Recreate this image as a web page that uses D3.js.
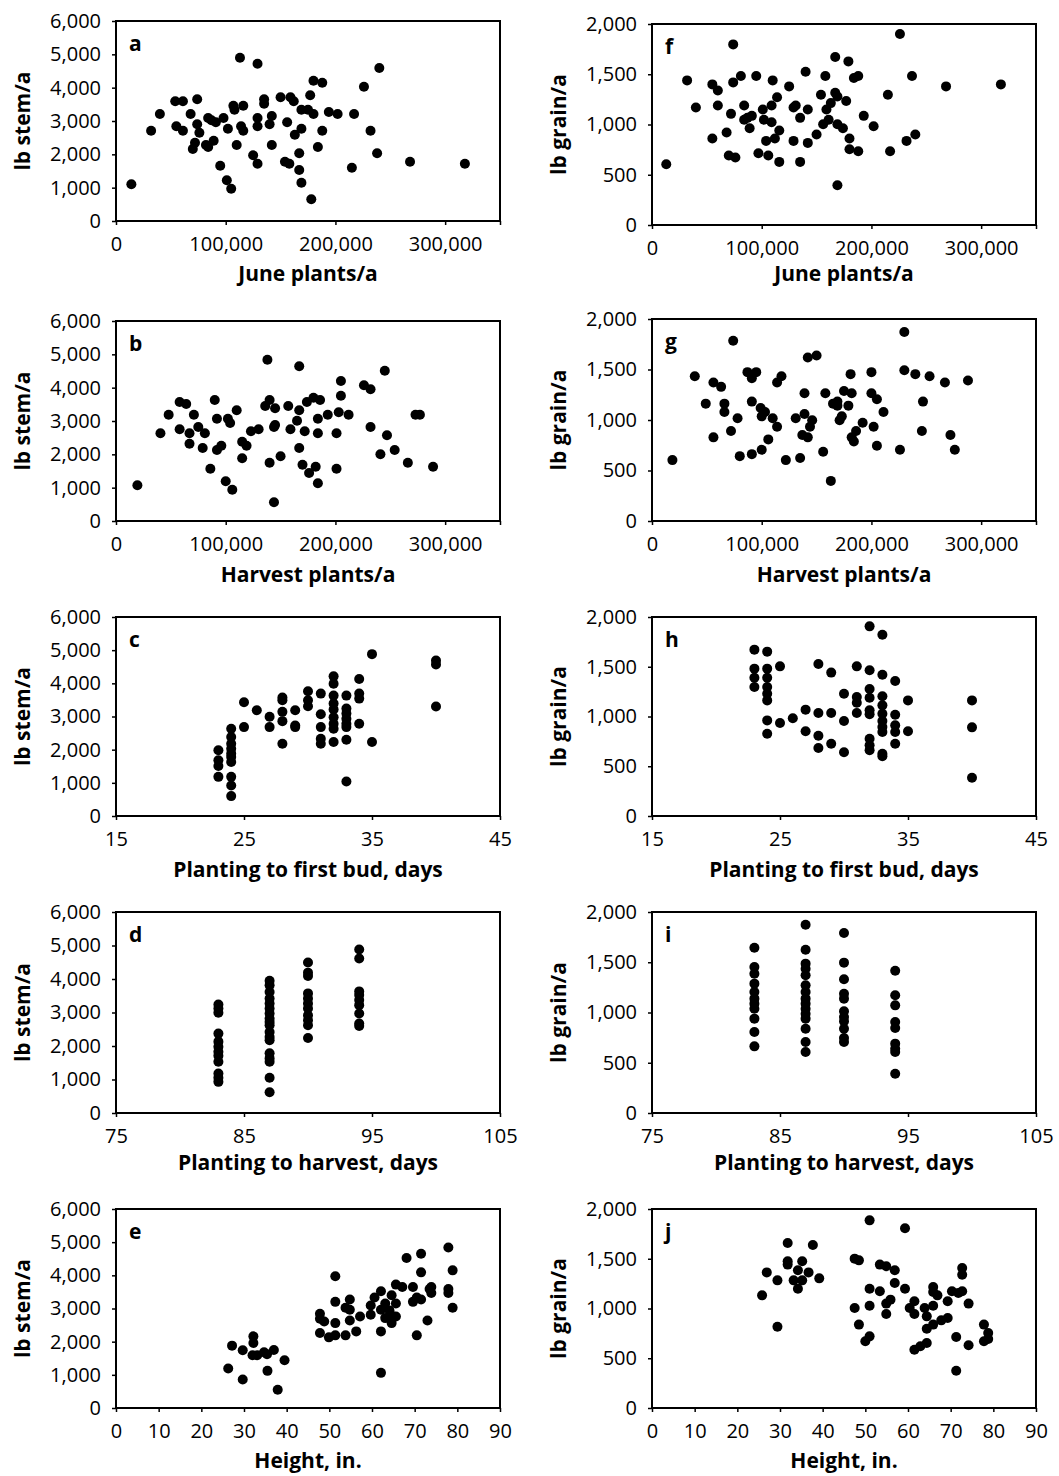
<!DOCTYPE html>
<html>
<head>
<meta charset="utf-8">
<script src="https://cdn.jsdelivr.net/npm/d3@7"></script>
<style>
  body { margin: 0; background: #fff; }
  text { font-family: "Open Sans", "DejaVu Sans", sans-serif; fill: #000; }
  .tick text { font-size: 20px; }
  .tick line { stroke: #000; stroke-width: 1.5; }
  .title { font-size: 21px; font-weight: bold; }
  .letter { font-size: 21px; font-weight: bold; }
</style>
</head>
<body>
<svg id="chart" width="1059" height="1476"></svg>
<script>
// panel a: June plants/a vs lb stem/a
var juneStem = [[14000,1100],[32000,2710],[40000,3210],[54000,3590],[61000,3590],[55000,2840],[61000,2710],[74000,3650],[68000,3210],[74000,2900],[76000,2650],[72000,2350],[70000,2160],[82000,2280],[84000,2220],[84000,3090],[87000,3020],[91000,2960],[89000,2410],[98000,3090],[95000,1660],[102000,2770],[101000,1220],[105000,970],[107000,3460],[108000,3340],[110000,2280],[113000,4900],[116000,3460],[114000,2840],[116000,2710],[125000,1970],[129000,1720],[129000,3090],[129000,2840],[129000,4720],[135000,3650],[135000,3520],[142000,3150],[140000,2900],[142000,2280],[150000,3710],[156000,2960],[154000,1780],[158000,1720],[159000,3710],[162000,3590],[163000,2590],[169000,3340],[169000,2770],[167000,2030],[167000,1530],[169000,1150],[175000,3340],[177000,3770],[180000,4210],[180000,3210],[178000,650],[188000,4150],[188000,2710],[184000,2220],[194000,3270],[202000,3210],[217000,3210],[215000,1600],[226000,4030],[232000,2710],[238000,2030],[240000,4590],[268000,1780],[318000,1720]];

// panel f: June plants/a vs lb grain/a
var juneGrain = [[13000,605],[32000,1439],[40000,1169],[55000,1399],[60000,1339],[60000,1189],[55000,860],[68000,920],[72000,1106],[74000,1419],[74000,1797],[70000,691],[76000,671],[81000,1482],[84000,1189],[84000,1047],[87000,1066],[91000,1086],[89000,963],[95000,1482],[97000,714],[101000,1150],[102000,1047],[104000,837],[106000,691],[109000,1189],[109000,1023],[110000,1439],[112000,860],[114000,1272],[116000,940],[116000,628],[125000,1379],[129000,1169],[131000,1189],[129000,837],[135000,1066],[135000,628],[140000,1525],[142000,1150],[142000,817],[150000,900],[154000,1296],[156000,1003],[158000,1482],[159000,1150],[161000,1047],[163000,1213],[167000,1671],[167000,1316],[169000,1003],[169000,1279],[169000,395],[174000,963],[177000,1233],[179000,1628],[180000,860],[180000,754],[184000,1462],[188000,1482],[188000,734],[193000,1086],[202000,983],[215000,1296],[217000,734],[226000,1900],[232000,837],[237000,1482],[240000,900],[268000,1379],[318000,1399]];

// panel b: Harvest plants/a vs lb stem/a
var harvestStem = [[19500,1070],[40500,2630],[48000,3190],[58000,3570],[64000,3510],[58000,2750],[71000,3190],[67000,2630],[67000,2320],[75000,2820],[81000,2630],[79000,2190],[90000,3630],[92000,3070],[92000,2130],[96000,2260],[86000,1570],[100000,1190],[106000,940],[102000,3070],[104000,2940],[110000,3320],[115000,2380],[119000,2260],[115000,1880],[123000,2690],[130000,2750],[138000,4840],[136000,3450],[140000,3630],[144000,2820],[145000,2880],[145000,3380],[140000,1750],[144000,560],[150000,1940],[157000,3450],[159000,2750],[165000,3010],[167000,3320],[167000,4640],[167000,2190],[170000,1690],[172000,2690],[174000,3570],[176000,1440],[180000,3700],[182000,1630],[184000,3070],[184000,2630],[184000,1130],[186000,3630],[193000,3190],[201000,2630],[201000,1570],[203000,3260],[205000,3760],[205000,4200],[212000,3190],[226000,4070],[232000,3950],[232000,2820],[241000,2000],[245000,4510],[247000,2570],[254000,2130],[266000,1750],[273000,3190],[277000,3190],[289000,1630]];

// panel g: Harvest plants/a vs lb grain/a
var harvestGrain = [[18600,603],[39000,1434],[49000,1162],[56000,1371],[63000,1328],[66000,1162],[66000,1079],[56000,828],[78000,1017],[72000,891],[74000,1785],[80000,642],[87000,1474],[91000,1414],[95000,1474],[91000,1182],[99000,1119],[103000,1079],[100000,1036],[91000,662],[100000,705],[106000,808],[110000,1017],[114000,934],[114000,1371],[118000,1434],[122000,603],[131000,1017],[135000,623],[139000,1265],[139000,1060],[137000,851],[142000,1619],[142000,828],[146000,997],[144000,934],[150000,1639],[156000,685],[158000,1265],[163000,397],[165000,1162],[169000,1182],[169000,1142],[171000,997],[173000,1036],[175000,1288],[179000,1142],[181000,1454],[182000,1265],[182000,828],[184000,788],[186000,891],[192000,973],[200000,1474],[200000,1265],[202000,934],[205000,1205],[205000,745],[211000,1079],[226000,705],[230000,1493],[230000,1871],[240000,1454],[246000,891],[247000,1182],[253000,1434],[267000,1371],[272000,851],[276000,705],[288000,1391]];

// panel c: planting to first bud, days vs lb stem/a
var budStem = [[23,1980],[23,1680],[23,1510],[23,1180],[24,2630],[24,2380],[24,2180],[24,2030],[24,1880],[24,1780],[24,1630],[24,1180],[24,920],[24,600],[25,3430],[25,2680],[26,3190],[27,2990],[27,2680],[28,3570],[28,3490],[28,3140],[28,2860],[28,2180],[29,3190],[29,2730],[29,2680],[30,3760],[30,3490],[30,3310],[31,3690],[31,3070],[31,2680],[31,2330],[31,2180],[32,4210],[32,3990],[32,3630],[32,3390],[32,3210],[32,2980],[32,2780],[32,2630],[32,2230],[33,3630],[33,3240],[33,3090],[33,2930],[33,2780],[33,2680],[33,2300],[33,1040],[34,4130],[34,3690],[34,3540],[34,2780],[35,4880],[35,2230],[40,4690],[40,4570],[40,3300]];

// panel h: planting to first bud, days vs lb grain/a
var budGrain = [[23,1672],[23,1481],[23,1390],[23,1297],[24,1652],[24,1481],[24,1390],[24,1297],[24,1229],[24,1162],[24,961],[24,827],[25,1504],[25,935],[26,982],[27,1069],[27,851],[28,1528],[28,1035],[28,807],[28,683],[29,1441],[29,1035],[29,727],[30,1229],[30,955],[30,640],[31,1504],[31,1196],[31,1139],[31,1035],[32,1906],[32,1464],[32,1276],[32,1189],[32,1062],[32,1022],[32,777],[32,710],[32,660],[33,1822],[33,1420],[33,1203],[33,1112],[33,1028],[33,955],[33,894],[33,844],[33,626],[33,600],[34,1357],[34,1018],[34,911],[34,844],[34,727],[35,1162],[35,851],[40,1162],[40,891],[40,385]];

// panel d: planting to harvest, days vs lb stem/a
var harvestDaysStem = [[83,3240],[83,3120],[83,2990],[83,2370],[83,2130],[83,1980],[83,1830],[83,1710],[83,1530],[83,1180],[83,1050],[83,930],[87,3950],[87,3810],[87,3610],[87,3420],[87,3270],[87,3120],[87,2970],[87,2820],[87,2720],[87,2620],[87,2420],[87,2270],[87,2170],[87,1780],[87,1630],[87,1530],[87,1050],[87,620],[90,4490],[90,4190],[90,4090],[90,3570],[90,3420],[90,3270],[90,3120],[90,2920],[90,2770],[90,2620],[90,2240],[94,4880],[94,4610],[94,3630],[94,3520],[94,3370],[94,3220],[94,2970],[94,2670],[94,2600]];

// panel i: planting to harvest, days vs lb grain/a
var harvestDaysGrain = [[83,1645],[83,1453],[83,1386],[83,1287],[83,1204],[83,1138],[83,1088],[83,1038],[83,939],[83,806],[83,663],[87,1874],[87,1625],[87,1486],[87,1436],[87,1370],[87,1270],[87,1204],[87,1138],[87,1088],[87,1038],[87,988],[87,939],[87,839],[87,706],[87,607],[90,1791],[90,1496],[90,1330],[90,1187],[90,1138],[90,1012],[90,955],[90,912],[90,839],[90,746],[90,706],[94,1416],[94,1171],[94,1071],[94,905],[94,846],[94,690],[94,640],[94,607],[94,391]];

// panel e: height, in. vs lb stem/a
var heightStem = [[26.3,1190],[27.2,1880],[29.7,1740],[29.7,860],[32.2,2160],[32.2,1960],[32.0,1590],[33.1,1590],[34.7,1680],[35.4,1620],[37.0,1750],[35.5,1120],[37.9,550],[39.5,1440],[47.8,2840],[47.8,2690],[48.8,2610],[47.8,2260],[49.9,2130],[51.4,3970],[51.4,3200],[51.4,2560],[51.4,2190],[53.8,3020],[53.8,2190],[54.8,3270],[54.8,2960],[54.8,2640],[56.3,2310],[57.2,2760],[59.7,3090],[59.7,2810],[60.6,3330],[62.1,3520],[62.1,2960],[62.1,2310],[62.1,1060],[63.1,3150],[63.1,2710],[64.1,2940],[64.6,3400],[64.6,2560],[65.0,2760],[65.6,3720],[65.6,3150],[65.6,2760],[67.1,3650],[68.1,4520],[69.6,3650],[69.6,3200],[70.5,3330],[70.5,2190],[71.5,4650],[71.5,4090],[71.5,3270],[73.0,2640],[73.5,3590],[73.9,3650],[73.9,3470],[77.9,4840],[77.9,3590],[77.9,3470],[78.9,4150],[78.9,3020]];

// panel j: height, in. vs lb grain/a
var heightGrain = [[25.8,1132],[26.9,1363],[29.4,1283],[29.4,817],[31.8,1658],[31.8,1474],[31.8,1441],[33.2,1283],[34.2,1384],[34.2,1199],[35.2,1474],[35.2,1283],[36.7,1363],[37.7,1638],[39.2,1303],[47.5,1501],[48.5,1484],[47.5,1005],[48.5,838],[50.0,670],[51.0,720],[51.0,1886],[51.0,1199],[51.0,1028],[53.4,1173],[53.4,1441],[54.9,1424],[54.9,1049],[54.9,945],[55.9,1089],[56.9,1384],[56.9,1256],[59.3,1806],[59.3,1199],[60.4,1005],[61.5,1072],[61.5,945],[61.5,586],[62.9,620],[63.9,1005],[64.4,653],[64.4,797],[64.4,921],[65.9,1216],[65.9,1166],[65.9,1028],[65.9,838],[66.9,1132],[67.8,881],[69.3,1072],[69.3,905],[70.3,1173],[71.8,1156],[71.3,714],[71.3,375],[72.7,1173],[72.7,1407],[72.7,1340],[74.2,1049],[74.2,630],[77.8,838],[77.8,670],[78.8,754],[78.8,693]];

// axis ticks
var plantTicks = [0, 100000, 200000, 300000, 350000];
var budTicks = [15, 25, 35, 45];
var harvestDayTicks = [75, 85, 95, 105];
var heightTicks = [0, 10, 20, 30, 40, 50, 60, 70, 80, 90];
var stemTicks = [0, 1000, 2000, 3000, 4000, 5000, 6000];
var grainTicks = [0, 500, 1000, 1500, 2000];

var fmt = d3.format(",");

var panels = [
  {letter: "a", col: 0, row: 0, data: juneStem, xd: [0, 350000], xt: plantTicks, xlab: "June plants/a", yd: [0, 6000], yt: stemTicks, ylab: "lb stem/a"},
  {letter: "b", col: 0, row: 1, data: harvestStem, xd: [0, 350000], xt: plantTicks, xlab: "Harvest plants/a", yd: [0, 6000], yt: stemTicks, ylab: "lb stem/a"},
  {letter: "c", col: 0, row: 2, data: budStem, xd: [15, 45], xt: budTicks, xlab: "Planting to first bud, days", yd: [0, 6000], yt: stemTicks, ylab: "lb stem/a"},
  {letter: "d", col: 0, row: 3, data: harvestDaysStem, xd: [75, 105], xt: harvestDayTicks, xlab: "Planting to harvest, days", yd: [0, 6000], yt: stemTicks, ylab: "lb stem/a"},
  {letter: "e", col: 0, row: 4, data: heightStem, xd: [0, 90], xt: heightTicks, xlab: "Height, in.", yd: [0, 6000], yt: stemTicks, ylab: "lb stem/a"},
  {letter: "f", col: 1, row: 0, data: juneGrain, xd: [0, 350000], xt: plantTicks, xlab: "June plants/a", yd: [0, 2000], yt: grainTicks, ylab: "lb grain/a"},
  {letter: "g", col: 1, row: 1, data: harvestGrain, xd: [0, 350000], xt: plantTicks, xlab: "Harvest plants/a", yd: [0, 2000], yt: grainTicks, ylab: "lb grain/a"},
  {letter: "h", col: 1, row: 2, data: budGrain, xd: [15, 45], xt: budTicks, xlab: "Planting to first bud, days", yd: [0, 2000], yt: grainTicks, ylab: "lb grain/a"},
  {letter: "i", col: 1, row: 3, data: harvestDaysGrain, xd: [75, 105], xt: harvestDayTicks, xlab: "Planting to harvest, days", yd: [0, 2000], yt: grainTicks, ylab: "lb grain/a"},
  {letter: "j", col: 1, row: 4, data: heightGrain, xd: [0, 90], xt: heightTicks, xlab: "Height, in.", yd: [0, 2000], yt: grainTicks, ylab: "lb grain/a"}
];

// plot box edges per column
var colX = [{left: 116, right: 500, ytitle: 30}, {left: 652, right: 1036, ytitle: 566}];
var rowTop = [[21, 321, 617, 912, 1209], [24, 319, 617, 912, 1209]];
var rowBottom = [[221, 521, 816, 1113, 1408], [225, 521, 816, 1113, 1408]];
// baseline of the x axis titles, shared by both columns
var titleY = [281, 582, 877, 1170, 1468];

var svg = d3.select("#chart");

panels.forEach(function(p) {
  var c = colX[p.col];
  var top = rowTop[p.col][p.row];
  var bottom = rowBottom[p.col][p.row];
  var w = c.right - c.left;
  var h = bottom - top;

  var g = svg.append("g")
    .attr("transform", `translate(${c.left}, ${top})`);

  var x = d3.scaleLinear().domain(p.xd).range([0, w]);
  var y = d3.scaleLinear().domain(p.yd).range([h, 0]);

  var xAxis = d3.axisBottom(x)
    .tickValues(p.xt)
    .tickFormat(function(d) { return d > p.xd[1] - 1 && p.xd[1] === 350000 ? "" : fmt(d); })
    .tickSize(4)
    .tickSizeOuter(0)
    .tickPadding(12);

  var yAxis = d3.axisLeft(y)
    .tickValues(p.yt)
    .tickFormat(fmt)
    .tickSize(4)
    .tickSizeOuter(0)
    .tickPadding(11);

  var xg = g.append("g")
    .attr("transform", `translate(0, ${h})`)
    .call(xAxis);
  xg.select(".domain").remove();

  var yg = g.append("g").call(yAxis);
  yg.select(".domain").remove();

  // plot frame
  g.append("rect")
    .attr("x", 0)
    .attr("y", 0)
    .attr("width", w)
    .attr("height", h)
    .attr("fill", "none")
    .attr("stroke", "#000")
    .attr("stroke-width", 2);

  g.selectAll("circle")
    .data(p.data)
    .enter()
    .append("circle")
    .attr("cx", d => x(d[0]))
    .attr("cy", d => y(d[1]))
    .attr("r", 5)
    .attr("fill", "#000");

  g.append("text")
    .attr("class", "letter")
    .attr("x", 13)
    .attr("y", 30)
    .text(p.letter);

  // x axis title
  svg.append("text")
    .attr("class", "title")
    .attr("text-anchor", "middle")
    .attr("x", c.left + w / 2)
    .attr("y", titleY[p.row])
    .text(p.xlab);

  // y axis title
  svg.append("text")
    .attr("class", "title")
    .attr("text-anchor", "middle")
    .attr("transform", `translate(${c.ytitle}, ${top + h / 2}) rotate(-90)`)
    .text(p.ylab);
});
</script>
</body>
</html>
